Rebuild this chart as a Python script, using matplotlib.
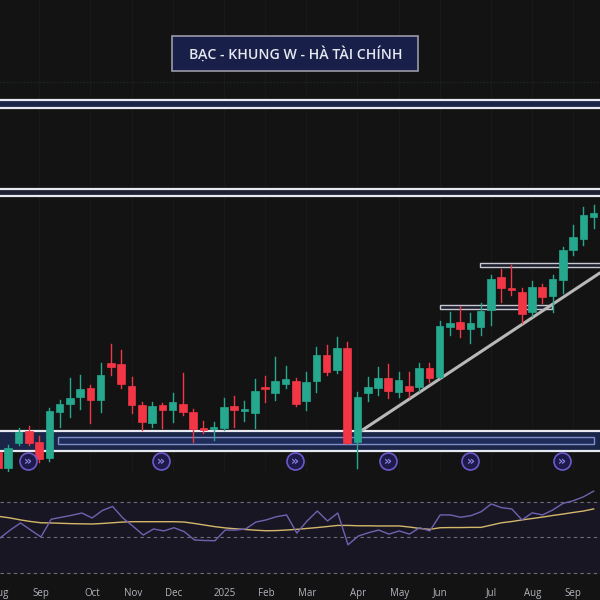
import matplotlib
matplotlib.use("Agg")
import matplotlib.pyplot as plt
from matplotlib.patches import Rectangle
import numpy as np

# ---------------- data (weekly candles, Aug 2024 -> Sep 2025) ----------------
opens = [27.68, 26.72, 28.22, 28.94, 28.28, 27.32, 30.08, 30.56, 30.98, 31.52,
         30.80, 33.02, 32.96, 31.64, 30.50, 29.42, 30.50, 30.20, 30.56, 30.08,
         29.12, 29.06, 29.12, 30.44, 30.14, 30.02, 31.58, 31.22, 31.76, 31.94,
         30.74, 31.94, 33.50, 32.60, 33.92, 28.28, 31.22, 31.52, 32.12, 31.28,
         31.64, 31.58, 32.72, 32.18, 35.18, 35.48, 35.06, 35.18, 36.20, 38.18,
         37.52, 37.28, 36.08, 37.58, 37.04, 38.00, 39.80, 40.46, 41.78]
highs = [27.92, 28.10, 29.12, 29.24, 28.64, 30.32, 30.80, 32.12, 32.30, 31.70,
         33.02, 34.16, 33.80, 32.18, 30.68, 30.68, 30.62, 31.22, 32.42, 30.26,
         29.54, 29.48, 30.92, 31.04, 30.74, 32.06, 32.24, 33.38, 32.84, 32.12,
         32.48, 33.98, 34.10, 34.58, 34.28, 31.28, 32.18, 32.78, 32.96, 32.48,
         32.48, 33.02, 33.02, 35.54, 36.08, 36.44, 36.02, 36.62, 38.30, 38.66,
         38.90, 37.52, 37.94, 37.76, 38.30, 39.98, 41.30, 42.38, 42.50]
lows = [26.60, 26.54, 28.10, 28.10, 27.08, 27.14, 29.18, 29.78, 30.26, 29.42,
        30.08, 32.30, 31.52, 30.02, 29.00, 29.18, 29.12, 29.48, 29.90, 28.28,
        28.82, 28.40, 29.00, 29.18, 29.54, 29.12, 30.68, 30.80, 31.52, 30.44,
        30.20, 31.28, 32.30, 32.42, 28.16, 26.72, 30.74, 31.10, 30.92, 30.98,
        30.98, 31.34, 31.88, 32.12, 34.70, 34.58, 34.22, 34.70, 35.30, 36.68,
        37.10, 35.42, 35.84, 36.62, 36.08, 37.22, 39.50, 40.10, 41.12]
closes = [26.72, 27.92, 28.88, 28.22, 27.26, 30.14, 30.56, 30.92, 31.46, 30.80,
          32.30, 32.78, 31.76, 30.50, 29.48, 30.44, 30.20, 30.68, 30.08, 29.06,
          29.00, 29.18, 30.38, 30.20, 30.26, 31.34, 31.46, 31.94, 32.06, 30.56,
          31.88, 33.50, 32.48, 33.92, 28.22, 30.98, 31.58, 32.12, 31.34, 32.00,
          31.34, 32.72, 32.12, 35.24, 35.42, 35.06, 35.42, 36.14, 38.06, 37.52,
          37.40, 35.96, 37.58, 36.98, 38.06, 39.80, 40.58, 41.90, 42.02]

rsi = [49.7, 54.2, 58.2, 54.2, 50.3, 60.3, 61.4, 62.5, 63.8, 61.0,
       65.2, 67.5, 61.0, 56.3, 51.4, 54.8, 53.7, 55.5, 53.3, 48.6,
       48.3, 48.2, 54.2, 54.2, 54.8, 58.7, 59.9, 61.7, 62.7, 52.5,
       59.3, 64.9, 59.3, 63.8, 45.9, 50.8, 52.7, 54.2, 51.9, 53.7,
       51.9, 55.5, 53.7, 62.7, 62.7, 61.4, 62.3, 64.5, 68.9, 66.8,
       66.1, 59.9, 63.9, 62.7, 65.5, 69.2, 70.7, 72.9, 76.1]
rsi_ma = [61.8, 61.0, 59.9, 59.0, 58.3, 58.2, 58.0, 57.8, 57.7, 57.6,
          57.9, 58.3, 58.7, 58.9, 58.9, 58.9, 58.9, 58.9, 58.7, 57.9,
          57.0, 56.1, 55.4, 54.9, 54.5, 54.1, 53.8, 53.9, 54.2, 54.6,
          55.1, 55.6, 56.2, 56.8, 56.8, 56.6, 56.6, 56.5, 56.5, 56.5,
          55.9, 55.1, 54.6, 55.5, 55.6, 55.6, 55.7, 55.7, 57.0, 58.3,
          59.0, 59.9, 60.7, 61.5, 62.4, 63.2, 64.1, 64.9, 66.1]

tick_weeks = [0, 4, 9, 13, 17, 22, 26, 30, 35, 39, 43, 48, 52, 56]
tick_labels = ["Aug", "Sep", "Oct", "Nov", "Dec", "2025", "Feb", "Mar", "Apr",
               "May", "Jun", "Jul", "Aug", "Sep"]

rollover_weeks = [2.9, 15.9, 28.9, 38.0, 46.0, 54.9]

zone_top = (48.32, 48.80)
zone_mid = (43.04, 43.46)
zone_bottom = (27.74, 28.94)
zone_bottom_inner = (28.16, 28.58)
res_upper = (38.78, 39.02)
res_lower = (36.26, 36.50)
trend_x = [35.05, 58.6]
trend_y = [28.82, 38.42]

title = "BẠC - KHUNG W - HÀ TÀI CHÍNH"

# ---------------- styling ----------------
BG = "#131313"
GREEN = "#26a88f"
RED = "#f23645"
GRID = "#191919"

plt.rcParams['font.family'] = ['Open Sans', 'DejaVu Sans']
fig = plt.figure(figsize=(6, 6), dpi=100, facecolor=BG)

ax = fig.add_axes([0, 1 - 472 / 600, 1, 472 / 600])
ax.set_facecolor(BG)
xlim = (0.195, 58.62)
ax.set_xlim(*xlim)
ax.set_ylim(26.48, 54.8)
for s in ax.spines.values():
    s.set_visible(False)
ax.set_xticks([])
ax.set_yticks([])
for t in tick_weeks:
    ax.axvline(t, color=GRID, lw=0.8, zorder=0)
ax.axhline(54.8 - 0.06 * 82, color="#1c3326", lw=0.8, ls=(0, (1, 2)), zorder=0)

# zones
def zone(y0, y1, fill="#1a2548"):
    ax.add_patch(Rectangle((xlim[0] - 1, y0), 70, y1 - y0, facecolor=fill,
                           edgecolor="none", zorder=1))
    ax.axhline(y0, color="#e8e8f0", lw=1.6, zorder=2)
    ax.axhline(y1, color="#e8e8f0", lw=1.6, zorder=2)

zone(*zone_top)
zone(*zone_mid, fill="#1c2030")
zone(*zone_bottom)
ax.add_patch(Rectangle((5.8, zone_bottom_inner[0]), 58.0 - 5.8,
                       zone_bottom_inner[1] - zone_bottom_inner[0],
                       facecolor="#1f2c5a", edgecolor="#7f8fc8", lw=1.0, zorder=2))
ax.add_patch(Rectangle((46.9, res_upper[0]), 20, res_upper[1] - res_upper[0],
                       facecolor="#1c1f2c", edgecolor="#c8c8d4", lw=1.0, zorder=2))
ax.add_patch(Rectangle((43.0, res_lower[0]), 53.9 - 43.0, res_lower[1] - res_lower[0],
                       facecolor="#1c1f2c", edgecolor="#c8c8d4", lw=1.0, zorder=2))

# trend line
ax.plot(trend_x, trend_y, color="#b8b8b8", lw=2.2, zorder=3, solid_capstyle="round")

# candles
x = np.arange(len(opens))
w = 0.74
for i in x:
    o, h, l, c = opens[i], highs[i], lows[i], closes[i]
    col = GREEN if c >= o else RED
    ax.plot([i, i], [l, h], color=col, lw=1.0, zorder=4)
    lo = min(o, c)
    hgt = max(abs(c - o), 0.05)
    ax.add_patch(Rectangle((i - w / 2, lo), w, hgt, facecolor=col,
                           edgecolor=col, lw=0.5, zorder=5))

# rollover markers
ry = 27.14
ax.scatter(rollover_weeks, [ry] * len(rollover_weeks), s=150, facecolor="#1e1a4a",
           edgecolor="#6a5acd", lw=1.2, zorder=6)
for r in rollover_weeks:
    ax.text(r, ry, "»", color="#8f84e8", ha="center", va="center",
            fontsize=9, fontweight="bold", zorder=7, family="DejaVu Sans")

# title box
fig.patches.append(Rectangle((172 / 600, 1 - 71 / 600), 246 / 600, 35 / 600,
                             transform=fig.transFigure, facecolor="#18204a",
                             edgecolor="#9a9aa8", lw=1.2, zorder=10))
fig.text(296 / 600, 1 - 54 / 600, title, color="#e6e8f0", ha="center",
         va="center", fontsize=10.2, fontweight="semibold", zorder=11)

# ---------------- RSI panel ----------------
ax2 = fig.add_axes([0, 18 / 600, 1, 108 / 600])
ax2.set_facecolor(BG)
ax2.set_xlim(*xlim)
ax2.set_ylim(24.93, 85.77)
for s in ax2.spines.values():
    s.set_visible(False)
ax2.axhspan(30, 70, color="#191624", zorder=0)
for lvl in (70, 50, 30):
    ax2.axhline(lvl, color="#6e6e78", lw=0.8, ls=(0, (3, 3)), zorder=1)
ax2.plot(x, rsi_ma, color="#d4b86a", lw=1.0, zorder=3)
ax2.plot(x, rsi, color="#6f63b0", lw=1.0, zorder=4)
ax2.set_yticks([])
ax2.set_xticks(tick_weeks)
ax2.set_xticklabels(tick_labels)
ax2.tick_params(axis="x", length=0, pad=4, labelsize=7, labelcolor="#b2b5be")

fig.savefig("out.png", dpi=100, facecolor=BG)
